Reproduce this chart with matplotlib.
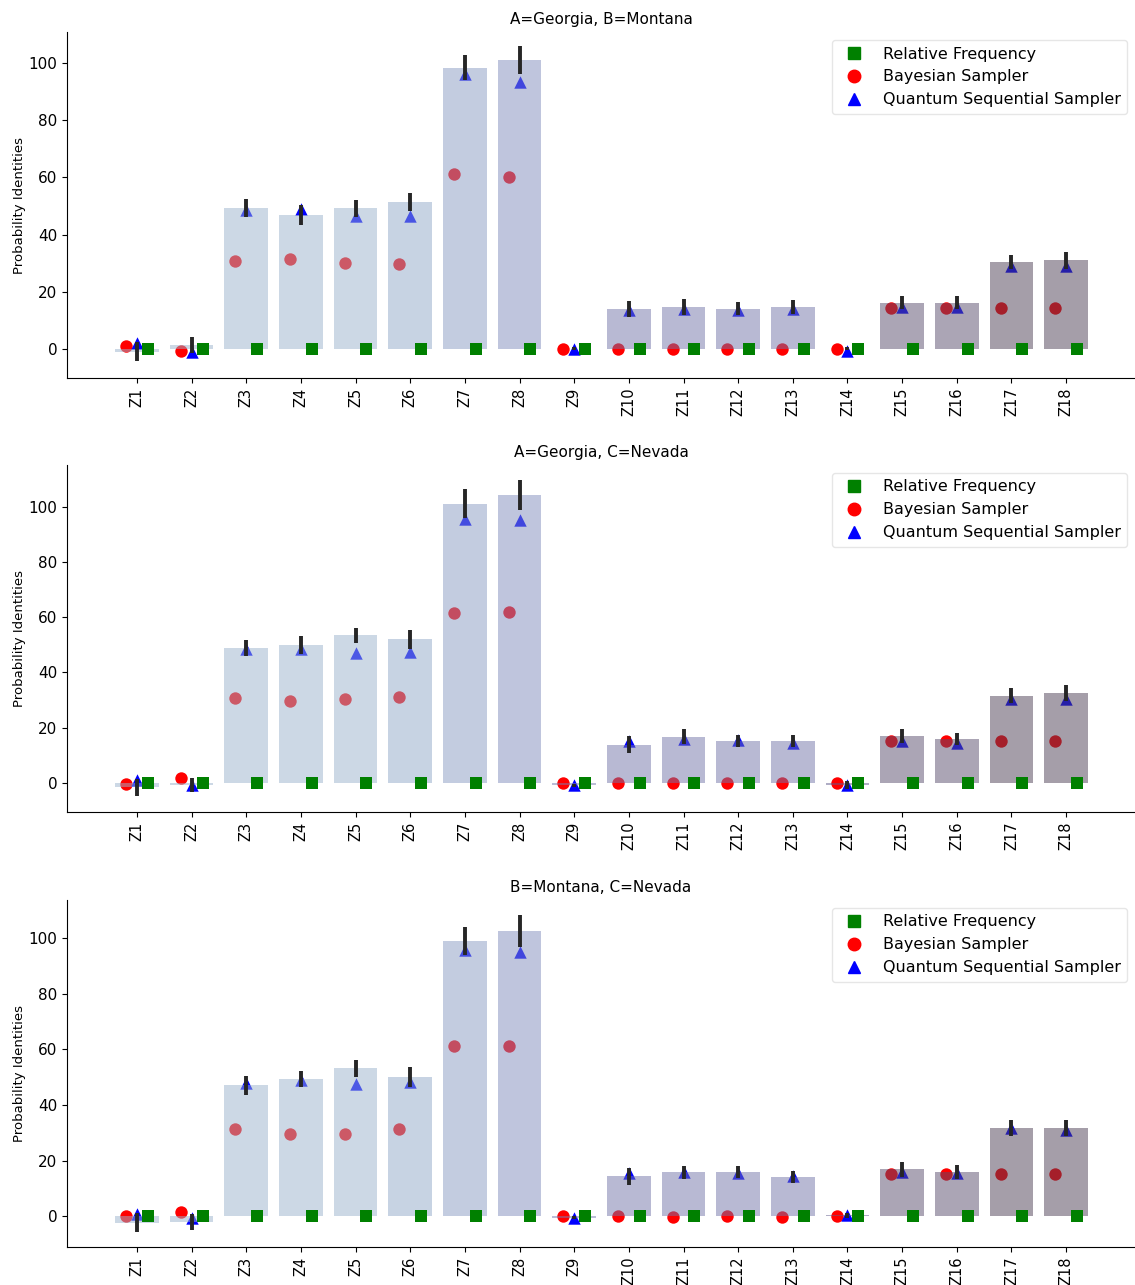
import numpy as np
import matplotlib
matplotlib.use("Agg")
import matplotlib.pyplot as plt
from matplotlib.lines import Line2D

categories = [f"Z{i}" for i in range(1, 19)]
titles = ["A=Georgia, B=Montana", "A=Georgia, C=Nevada", "B=Montana, C=Nevada"]

# Mean of the quantum sequential samples (bar) and half-width of its interval
bar_ab = [-1.0, 1.4, 49.3, 46.9, 49.2, 51.5, 98.3, 101.0, 0.0, 13.8, 14.7, 14.0, 14.6, 0.0, 16.2, 16.2, 30.4, 31.0]
err_ab = [3.4, 2.8, 3.0, 3.4, 3.0, 3.2, 4.4, 5.0, 0.5, 2.8, 2.9, 2.3, 2.5, 0.5, 2.3, 2.3, 2.6, 3.0]
bar_ac = [-1.6, -0.7, 48.8, 50.0, 53.4, 52.0, 101.0, 104.3, -0.8, 13.8, 16.7, 15.2, 15.2, -0.7, 17.0, 15.8, 31.5, 32.5]
err_ac = [3.0, 2.5, 3.0, 3.3, 2.8, 3.5, 5.2, 5.4, 0.6, 3.1, 2.7, 2.2, 2.1, 1.5, 2.4, 2.1, 2.7, 3.0]
bar_bc = [-2.3, -2.0, 47.0, 49.3, 53.2, 50.0, 99.0, 102.5, -0.5, 14.4, 15.8, 15.8, 14.0, 0.3, 16.9, 15.8, 31.7, 31.7]
err_bc = [3.5, 3.0, 3.4, 2.8, 3.0, 3.6, 5.0, 5.6, 0.6, 3.0, 2.3, 2.2, 2.2, 0.8, 2.7, 2.5, 2.9, 3.0]

# Point estimates of each method
quantum_ab = [2.0, -1.0, 48.6, 49.0, 46.5, 46.5, 96.0, 93.2, 0.0, 13.5, 14.0, 13.5, 14.0, -0.6, 14.8, 14.8, 29.0, 29.0]
bayes_ab = [1.0, -0.7, 30.9, 31.3, 30.1, 29.8, 61.2, 60.2, 0.0, -0.2, 0.0, -0.1, -0.2, 0.0, 14.3, 14.3, 14.3, 14.3]
quantum_ac = [1.1, -0.7, 48.5, 48.5, 46.9, 47.5, 95.6, 95.0, -0.7, 15.2, 16.0, 15.6, 14.4, -0.7, 15.2, 14.6, 30.5, 30.5]
bayes_ac = [-0.2, 1.7, 30.7, 29.8, 30.3, 31.2, 61.6, 61.8, 0.0, 0.0, 0.0, 0.0, 0.0, 0.0, 15.0, 15.3, 15.3, 15.3]
quantum_bc = [1.0, -0.5, 47.8, 48.9, 47.6, 48.2, 95.7, 95.0, -0.7, 15.4, 15.8, 15.5, 14.4, 0.4, 15.8, 15.5, 31.8, 31.0]
bayes_bc = [0.0, 1.6, 31.2, 29.7, 29.7, 31.5, 61.2, 61.2, 0.0, 0.0, -0.4, 0.0, -0.4, 0.0, 15.1, 15.1, 15.1, 15.1]

relfreq_ab = [0.0] * 18
relfreq_ac = [0.0] * 18
relfreq_bc = [0.0] * 18

panels = [
    (bar_ab, err_ab, quantum_ab, bayes_ab, relfreq_ab),
    (bar_ac, err_ac, quantum_ac, bayes_ac, relfreq_ac),
    (bar_bc, err_bc, quantum_bc, bayes_bc, relfreq_bc),
]
ylims = [(-10.2, 110.8), (-10.5, 115.0), (-11.0, 113.6)]

bar_colors = (["#9bb3cd"] * 5 + ["#91a9c9", "#899bc3", "#818dbd", "#797db1"]
              + ["#7375a9"] * 4 + ["#615d8d", "#594d6d", "#594d6d", "#4d3f55", "#4d3f55"])

fig = plt.figure(figsize=(11.35, 12.85), dpi=100)
boxes = [(0.059, 0.7058, 0.941, 0.2692), (0.059, 0.3681, 0.941, 0.2700), (0.059, 0.0296, 0.941, 0.2700)]

x = np.arange(len(categories))
for (bars, errs, quant, bayes, rel), title, box, yl in zip(panels, titles, boxes, ylims):
    ax = fig.add_axes(box)
    ax.scatter(x - 0.2, bayes, marker="o", s=80, color="red", zorder=2, linewidths=0)
    ax.scatter(x, quant, marker="^", s=80, color="blue", zorder=2, linewidths=0)
    ax.bar(x, bars, width=0.8, color=bar_colors, alpha=0.5, zorder=3, linewidth=0)
    ax.errorbar(x, bars, yerr=errs, fmt="none", ecolor="#262626", elinewidth=2.8,
                capsize=0, zorder=4)
    ax.scatter(x + 0.2, rel, marker="s", s=65, color="green", zorder=5, linewidths=0)
    ax.set_xlim(-1.28, 18.26)
    ax.set_ylim(*yl)
    ax.set_xticks(x)
    ax.set_xticklabels(categories, rotation=90, fontsize=10.5)
    ax.set_yticks([0, 20, 40, 60, 80, 100])
    ax.tick_params(axis="y", labelsize=11)
    ax.set_ylabel("Probability Identities", fontsize=9.5, labelpad=2)
    ax.set_title(title, fontsize=11)
    for side in ("top", "right"):
        ax.spines[side].set_visible(False)
    handles = [
        Line2D([], [], ls="none", marker="s", ms=8, color="green"),
        Line2D([], [], ls="none", marker="o", ms=9, color="red"),
        Line2D([], [], ls="none", marker="^", ms=9, color="blue"),
    ]
    ax.legend(handles, ["Relative Frequency", "Bayesian Sampler", "Quantum Sequential Sampler"],
              loc="upper right", fontsize=11.5, frameon=True, edgecolor="#e0e0e0")

fig.savefig("out.png", dpi=100)
